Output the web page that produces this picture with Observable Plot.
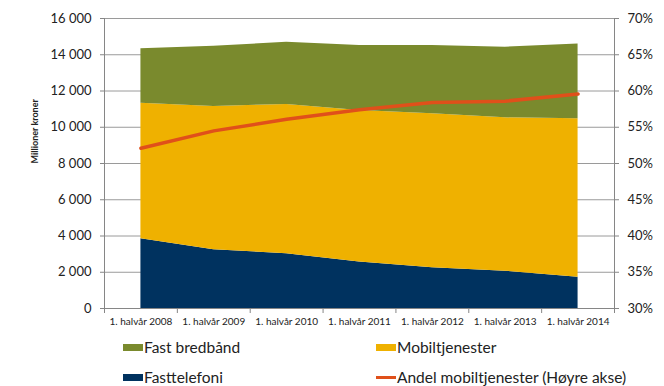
<!DOCTYPE html>
<html><head><meta charset="utf-8">
<script src="https://cdn.jsdelivr.net/npm/d3@7"></script>
<script src="https://cdn.jsdelivr.net/npm/@observablehq/plot@0.6"></script>
<style>
body{margin:0;background:#fff;font-family:Lato, sans-serif;}
#wrap{position:relative;width:664px;height:386px;overflow:hidden}
.leg{position:absolute;font-size:15.5px;line-height:20px;color:#222;display:flex;align-items:center;white-space:nowrap}
.sw{width:20px;height:7px;margin-right:1px}
.ln{width:20px;height:3px;margin-right:1px}
</style></head><body>
<div id="wrap"><div id="chart"></div>
<div id="legend"></div>
</div>
<script>
const categories = ["1. halvår 2008","1. halvår 2009","1. halvår 2010","1. halvår 2011","1. halvår 2012","1. halvår 2013","1. halvår 2014"];
const fasttelefoni = [3850, 3240, 3020, 2560, 2250, 2060, 1730];
const mobiltjenester = [7480, 7900, 8240, 8360, 8490, 8460, 8740];
const fastBredband = [3000, 3330, 3430, 3590, 3770, 3900, 4130];
const andelMobil = [52.1, 54.5, 56.1, 57.4, 58.4, 58.6, 59.6];
const leftTicks = [0, 2000, 4000, 6000, 8000, 10000, 12000, 14000, 16000];
const rightTicks = [30, 35, 40, 45, 50, 55, 60, 65, 70];
const seriesNames = ["Fasttelefoni", "Mobiltjenester", "Fast bredbånd"];
const seriesColors = ["#00325F", "#EFB100", "#7A8A2D"];
const lineName = "Andel mobiltjenester (Høyre akse)";
const lineColor = "#E0501A";

const toLeft = p => (p - 30) / 40 * 16000;
const fromLeft = v => v / 16000 * 40 + 30;

const seriesValues = [fasttelefoni, mobiltjenester, fastBredband];
const rows = seriesNames.flatMap((s, k) => seriesValues[k].map((v, i) => ({i, serie: s, value: v})));
const idx = categories.map((c, i) => i);

const fmt = v => d3.format(",")(v).replace(/,/g, " ");

const chart = Plot.plot({
  width: 664, height: 335,
  marginLeft: 104, marginRight: 50, marginTop: 18, marginBottom: 27,
  style: {fontFamily: "Lato, sans-serif", background: "#fff"},
  x: {domain: [-0.5, categories.length - 0.5]},
  y: {domain: [0, 16000]},
  color: {domain: seriesNames, range: seriesColors},
  marks: [
    Plot.ruleY(leftTicks, {stroke: "#9a9a9a"}),
    Plot.areaY(rows, {x: "i", y: "value", fill: "serie"}),
    Plot.lineY(andelMobil, {x: (d, i) => i, y: d => toLeft(d), stroke: lineColor, strokeWidth: 3.5}),
    Plot.ruleX([-0.5, categories.length - 0.5], {stroke: "#868686"}),
    Plot.ruleY([0], {stroke: "#868686"}),
    Plot.axisY(leftTicks, {anchor: "left", tickSize: 4, tickPadding: 9, tickFormat: fmt, fontSize: 13, stroke: "#868686", fill: "#222", label: null}),
    Plot.axisY(rightTicks.map(toLeft), {anchor: "right", tickSize: 4, tickPadding: 9, tickFormat: v => Math.round(fromLeft(v)) + "%", fontSize: 13, stroke: "#868686", fill: "#222", label: null}),
    Plot.axisX(d3.range(-0.5, categories.length, 1), {tickSize: 5, tickFormat: () => "", stroke: "#868686", label: null}),
    Plot.axisX(idx, {tickSize: 0, tickPadding: 9, tickFormat: i => categories[i], fontSize: 10, fill: "#222", label: null}),
    Plot.text(["Millioner kroner"], {text: d => d, frameAnchor: "left", dx: -69, rotate: -90, fontSize: 9, fontWeight: "bold", fill: "#222"})
  ]
});
document.getElementById("chart").appendChild(chart);

const legendItems = [
  {name: "Fast bredbånd", color: seriesColors[2], type: "sw", left: 123, top: 337},
  {name: "Mobiltjenester", color: seriesColors[1], type: "sw", left: 376, top: 337},
  {name: "Fasttelefoni", color: seriesColors[0], type: "sw", left: 123, top: 367},
  {name: lineName, color: lineColor, type: "ln", left: 376, top: 367}
];
const leg = document.getElementById("legend");
for (const it of legendItems) {
  const d = document.createElement("div");
  d.className = "leg";
  d.style.left = it.left + "px";
  d.style.top = it.top + "px";
  const s = document.createElement("span");
  s.className = it.type;
  s.style.background = it.color;
  d.appendChild(s);
  d.appendChild(document.createTextNode(it.name));
  leg.appendChild(d);
}
</script>
</body></html>
